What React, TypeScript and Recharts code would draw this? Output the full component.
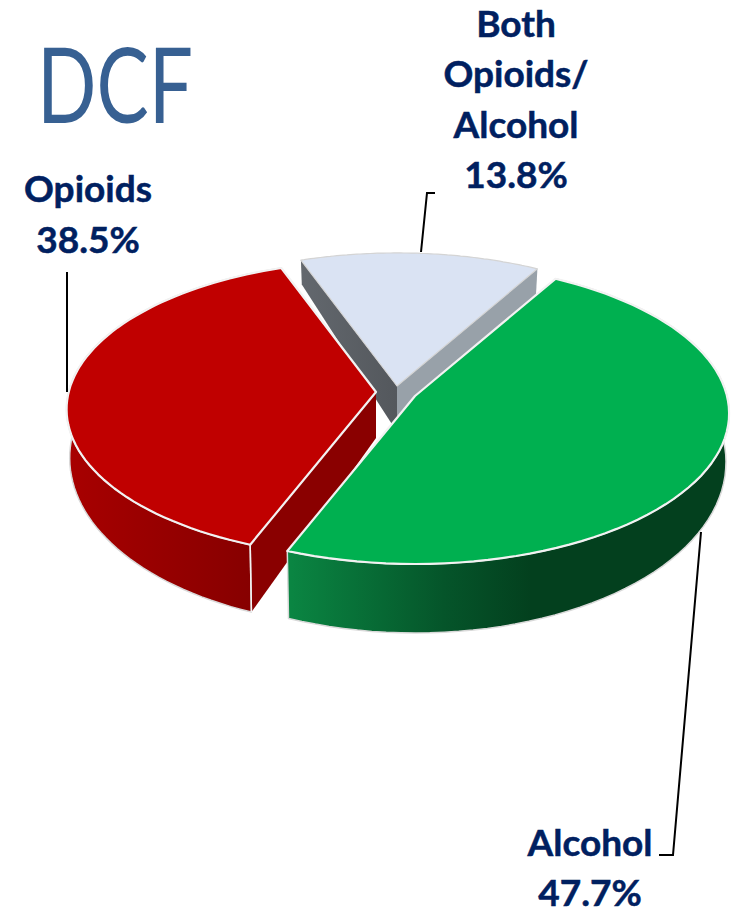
import React from "react";
import { PieChart, Pie } from "recharts";

const names = ["Both Opioids/ Alcohol", "Opioids", "Alcohol"];
const values = [13.8, 38.5, 47.7];
const labelLines = [["Both", "Opioids/", "Alcohol"], ["Opioids"], ["Alcohol"]];

const tableData = names.map((name, i) => ({ name, value: values[i] }));

const W = 731;
const H = 909;
const NAVY = "#002060";
const FONT = "Lato, 'Open Sans', sans-serif";
const PIE_CX = 390;
const PIE_CY = 394;
const PIE_R = 312;
const Y_RATIO = 0.476;
const PERSP = 0.116;

const sliceStyle: Record<string, any> = {
  "Both Opioids/ Alcohol": {
    dx: 7, dy: -8, scale: 1, top: "#DAE3F3", stroke: "#d4d4d4", strokeW: 1.2,
    arc: null, startWall: "#98a1a9", endWall: "url(#wallBlueL)",
    label: { x: 516, y: 37, step: 50.3 },
    leader: "435,193 427,193 421,252",
  },
  Opioids: {
    dx: -14, dy: -2, scale: 0.985, top: "#C00000", stroke: "#f2f2f2", strokeW: 2.2,
    arc: "url(#wallRed)", startWall: null, endWall: "#8a0000",
    label: { x: 88, y: 202, step: 51 },
    leader: "67,272 67,392",
  },
  Alcohol: {
    dx: 25, dy: 2, scale: 1, top: "#00B050", stroke: "#f2f2f2", strokeW: 2.2,
    arc: "url(#wallGreen)", startWall: null, endWall: null,
    label: { x: 590, y: 856, step: 49.5 },
    leader: "659,855 673,855 701,532",
  },
};

function project(mathDeg: number, scale: number) {
  const t = (mathDeg * Math.PI) / 180;
  const x = Math.cos(t);
  const y = -Math.sin(t);
  const d = 1 - PERSP * y;
  return { X: (scale * PIE_R * x) / d, Y: (scale * PIE_R * Y_RATIO * y) / d, y };
}
function lower(X: number, Y: number, y: number) {
  return { X: X * 0.99, Y: Y + 46 + 23 * y };
}

function Slice3D(props: any) {
  const { cx, cy, startAngle, endAngle } = props;
  const name = props.name ?? props.payload?.name;
  const s = sliceStyle[name];
  const ox = cx + s.dx;
  const oy = cy + s.dy;
  const steps = 72;
  const upper: [number, number][] = [];
  const below: [number, number][] = [];
  for (let i = 0; i <= steps; i++) {
    const a = startAngle + ((endAngle - startAngle) * i) / steps;
    const p = project(a, s.scale);
    const l = lower(p.X, p.Y, p.y);
    upper.push([ox + p.X, oy + p.Y]);
    below.push([ox + l.X, oy + l.Y]);
  }
  const apex: [number, number] = [ox, oy];
  const apexLow: [number, number] = [ox, oy + 46];
  const pts = (a: [number, number][]) => a.map((p) => `${p[0].toFixed(1)},${p[1].toFixed(1)}`).join(" ");
  return (
    <g>
      {s.startWall && <polygon points={pts([apex, upper[0], below[0], apexLow])} fill={s.startWall} />}
      {s.endWall && <polygon points={pts([apex, upper[steps], below[steps], apexLow])} fill={s.endWall} />}
      {s.arc && (
        <polygon points={pts([...upper, ...[...below].reverse()])} fill={s.arc} stroke="#d9d9d9" strokeWidth={1.5} strokeLinejoin="round" />
      )}
      {name === "Opioids" && (
        <line x1={upper[steps][0]} y1={upper[steps][1]} x2={below[steps][0]} y2={below[steps][1]} stroke="#f2f2f2" strokeWidth={1.5} />
      )}
      <polygon points={pts([apex, ...upper])} fill={s.top} stroke={s.stroke} strokeWidth={s.strokeW} strokeLinejoin="round" />
    </g>
  );
}

function SliceLabel(props: any) {
  const name = props.name ?? props.payload?.name;
  const idx = names.indexOf(name);
  const s = sliceStyle[name];
  const lines = [...labelLines[idx], `${values[idx]}%`];
  return (
    <g>
      <polyline points={s.leader} fill="none" stroke="#000" strokeWidth={2} />
      <text textAnchor="middle" fill={NAVY} stroke={NAVY} strokeWidth={0.5} fontFamily={FONT} fontWeight={700} fontSize={37}>
        {lines.map((l, i) => (
          <tspan key={l} x={s.label.x} y={s.label.y + i * s.label.step}>
            {l}
          </tspan>
        ))}
      </text>
    </g>
  );
}

export default function App() {
  return (
    <div style={{ position: "absolute", left: 0, top: 0, width: W, height: H }}>
      <PieChart width={W} height={H} margin={{ top: 0, right: 0, bottom: 0, left: 0 }}>
        <defs>
          <linearGradient id="wallRed" gradientUnits="userSpaceOnUse" x1={66} y1={0} x2={250} y2={0}>
            <stop offset="0" stopColor="#a80000" />
            <stop offset="1" stopColor="#870000" />
          </linearGradient>
          <linearGradient id="wallGreen" gradientUnits="userSpaceOnUse" x1={291} y1={0} x2={727} y2={0}>
            <stop offset="0" stopColor="#0a8542" />
            <stop offset="0.35" stopColor="#05552a" />
            <stop offset="0.55" stopColor="#03401e" />
            <stop offset="1" stopColor="#03401e" />
          </linearGradient>
          <linearGradient id="wallBlueL" gradientUnits="userSpaceOnUse" x1={300} y1={0} x2={396} y2={0}>
            <stop offset="0" stopColor="#63686e" />
            <stop offset="1" stopColor="#54585d" />
          </linearGradient>
        </defs>
        <text x={37} y={123} fill="#376092" fontFamily={FONT} fontWeight={400} fontSize={104} textLength={156} lengthAdjust="spacingAndGlyphs">
          DCF
        </text>
        <Pie
          data={tableData}
          dataKey="value"
          nameKey="name"
          cx={PIE_CX}
          cy={PIE_CY}
          innerRadius={0}
          outerRadius={PIE_R}
          startAngle={60.3}
          endAngle={420.3}
          stroke="none"
          isAnimationActive={false}
          shape={Slice3D}
          label={SliceLabel}
          labelLine={false}
        />
      </PieChart>
    </div>
  );
}
